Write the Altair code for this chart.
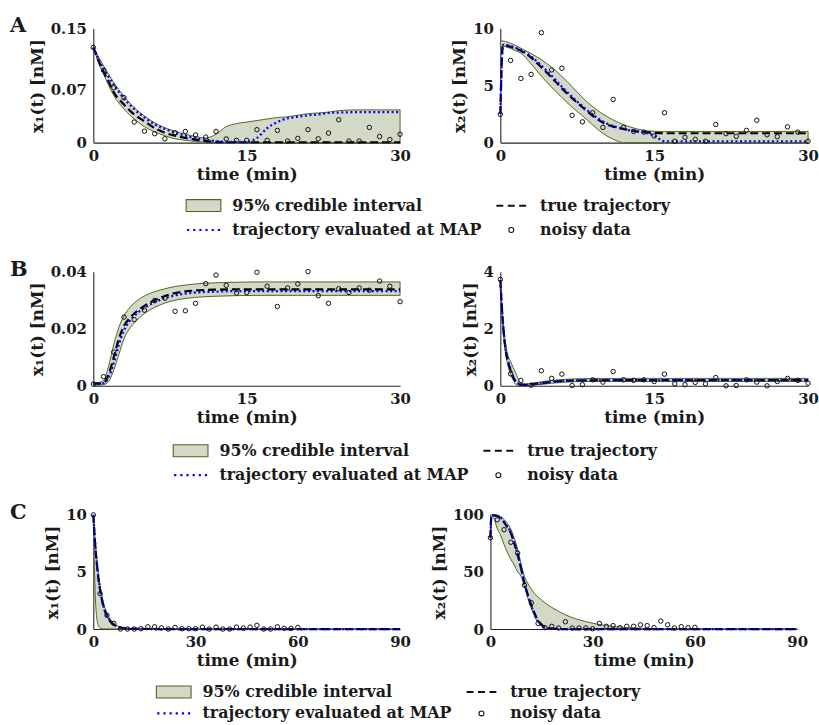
import altair as alt
import pandas as pd

FONT = "DejaVu Serif"
INK = "#1a1a1a"
BAND_FILL = "#d3d9c6"
BAND_STROKE = "#55651e"
MAP_BLUE = "#0000ff"

# ---------------- Panel A ----------------
tA = [0, 0.25, 0.5, 1, 1.5, 2, 3, 4, 5, 6, 7, 8, 9, 10, 11, 12, 13, 14, 15, 16,
      17, 18, 19, 20, 21, 22, 23, 24, 26, 28, 30]
A1_lo = [0.125, 0.115, 0.105, 0.090, 0.075, 0.062, 0.044, 0.031, 0.021, 0.014, 0.009,
         0.005, 0.003, 0.0015, 0.0005, 0, 0, 0, 0, 0, 0, 0, 0, 0, 0, 0, 0, 0, 0, 0, 0]
A1_hi = [0.125, 0.119, 0.113, 0.101, 0.090, 0.079, 0.061, 0.046, 0.035, 0.026, 0.0195,
         0.015, 0.011, 0.008, 0.006, 0.011, 0.021, 0.025, 0.027, 0.029, 0.031, 0.033,
         0.034, 0.036, 0.038, 0.039, 0.040, 0.042, 0.043, 0.043, 0.043]
A1_true = [0.125, 0.117, 0.108, 0.093, 0.080, 0.066, 0.050, 0.037, 0.028, 0.019, 0.013,
           0.009, 0.006, 0.004, 0.002, 0.001, 0.0005, 0.0005, 0.0005, 0.0005, 0.0005,
           0.0005, 0.0005, 0.0005, 0.0005, 0.0005, 0.0005, 0.0005, 0.0005, 0.0005, 0.0005]
A1_map = [0.125, 0.117, 0.110, 0.097, 0.086, 0.076, 0.058, 0.044, 0.033, 0.024, 0.018,
          0.013, 0.009, 0.006, 0.004, 0.002, 0.001, 0.001, 0.001, 0.006, 0.019, 0.027,
          0.032, 0.034, 0.036, 0.037, 0.039, 0.0395, 0.040, 0.040, 0.040]
A2_lo = [8.4, 8.45, 8.4, 8.25, 8.05, 7.84, 6.9, 5.82, 4.85, 3.95, 3.1, 2.36, 1.55, 0.8,
         0.3, 0, 0, 0, 0, 0, 0, 0, 0, 0, 0, 0, 0, 0, 0, 0, 0]
A2_hi = [8.9, 8.9, 8.85, 8.7, 8.5, 8.27, 7.8, 7.26, 6.6, 5.8, 4.9, 3.95, 3.15, 2.5, 1.98,
         1.58, 1.28, 1.07, 0.99, 0.97, 0.97, 0.97, 0.97, 0.97, 0.97, 0.97, 0.97, 0.97,
         0.97, 0.98, 0.98]
A2_true = [2.5, 8.5, 8.5, 8.4, 8.25, 8.05, 7.45, 6.6, 5.7, 4.75, 3.9, 3.1, 2.35, 1.75,
           1.4, 1.2, 1.02, 0.92, 0.85, 0.82, 0.82, 0.82, 0.82, 0.82, 0.82, 0.82, 0.82,
           0.82, 0.82, 0.82, 0.82]
A2_map = [2.5, 8.55, 8.55, 8.45, 8.3, 8.1, 7.55, 6.75, 5.85, 4.9, 4.0, 3.2, 2.45, 1.85,
          1.45, 1.2, 1.0, 0.9, 0.6, 0.12, 0.1, 0.1, 0.1, 0.1, 0.1, 0.1, 0.1, 0.1, 0.1,
          0.1, 0.1]
tA_data = list(range(0, 31))
A1_data = [0.125, 0.095, 0.072, 0.059, 0.027, 0.015, 0.0117, 0.005, 0.013, 0.0147, 0.010,
           0.0073, 0.0147, 0.0048, 0.003, 0.003, 0.017, 0.003, 0.016, 0.002, 0.0056,
           0.017, 0.005, 0.0125, 0.030, 0.002, 0.002, 0.020, 0.008, 0.004, 0.011]
A2_data = [2.48, 7.2, 5.62, 5.97, 9.63, 6.37, 6.51, 2.39, 1.82, 2.62, 1.33, 3.78, 1.33,
           0.98, 0.92, 0.58, 2.62, 0.12, 0.46, 0.29, 0.12, 1.59, 0.78, 0.55, 1.07, 1.96,
           0.69, 0.52, 1.38, 0.92, 0.12]

# ---------------- Panel B ----------------
tB = [0, 0.5, 1, 1.5, 2, 2.5, 3, 3.5, 4, 5, 6, 7, 8, 9, 10, 12, 14, 16, 18, 20, 22,
      24, 26, 28, 30]
B1_true = [0.0008, 0.0008, 0.001, 0.004, 0.010, 0.0165, 0.021, 0.0235, 0.0253, 0.028,
           0.030, 0.0315, 0.0325, 0.0331, 0.0334, 0.0337, 0.0338, 0.0338, 0.0338,
           0.0338, 0.0338, 0.0338, 0.0338, 0.0338, 0.0338]
B1_map = [0.0008, 0.0008, 0.0009, 0.003, 0.008, 0.0145, 0.0195, 0.0225, 0.0245, 0.0273,
          0.0293, 0.0307, 0.0317, 0.0323, 0.0327, 0.033, 0.0332, 0.0332, 0.0332, 0.0332,
          0.0332, 0.0332, 0.0332, 0.0332, 0.0332]
B1_hi = [0.0012, 0.0012, 0.0018, 0.007, 0.0145, 0.0205, 0.0245, 0.0272, 0.029, 0.0315,
         0.033, 0.034, 0.0348, 0.0353, 0.0357, 0.0361, 0.0363, 0.0364, 0.0364, 0.0364,
         0.0364, 0.0364, 0.0364, 0.0364, 0.0364]
B1_lo = [0.0002, 0.0002, 0.0004, 0.0015, 0.0055, 0.011, 0.0165, 0.0198, 0.022, 0.0253,
         0.0275, 0.029, 0.030, 0.0306, 0.031, 0.0314, 0.0316, 0.0317, 0.0317, 0.0317,
         0.0317, 0.0317, 0.0317, 0.0317, 0.0317]
tB2 = [0, 0.25, 0.5, 0.75, 1, 1.25, 1.5, 2, 2.5, 3, 4, 5, 6, 7, 8, 10, 12, 14, 16, 18,
       20, 22, 24, 26, 28, 30]
B2_true = [3.7, 2.2, 1.3, 0.85, 0.55, 0.3, 0.15, 0.04, 0.03, 0.05, 0.09, 0.14, 0.17,
           0.185, 0.19, 0.2, 0.2, 0.2, 0.2, 0.2, 0.2, 0.2, 0.2, 0.2, 0.2, 0.2]
B2_map = [3.7, 2.25, 1.35, 0.9, 0.58, 0.33, 0.17, 0.05, 0.03, 0.05, 0.09, 0.14, 0.17,
          0.185, 0.19, 0.195, 0.195, 0.195, 0.195, 0.195, 0.195, 0.195, 0.195, 0.195,
          0.195, 0.195]
B2_hi = [3.7, 2.35, 1.5, 1.05, 0.85, 0.65, 0.45, 0.1, 0.07, 0.09, 0.14, 0.19, 0.22, 0.24,
         0.25, 0.26, 0.26, 0.26, 0.26, 0.26, 0.26, 0.26, 0.26, 0.26, 0.26, 0.26]
B2_lo = [3.7, 2.05, 1.15, 0.7, 0.4, 0.2, 0.05, 0.0, 0.0, 0.02, 0.05, 0.09, 0.12, 0.14,
         0.15, 0.155, 0.155, 0.155, 0.155, 0.155, 0.155, 0.155, 0.155, 0.155, 0.155,
         0.155]
tB_data = list(range(0, 31))
B1_data = [0.0006, 0.0032, 0.0118, 0.0241, 0.0232, 0.0265, 0.0299, 0.0307, 0.0261,
           0.0263, 0.0289, 0.0358, 0.0388, 0.0352, 0.0325, 0.0327, 0.0398, 0.0349,
           0.0278, 0.0343, 0.0357, 0.0400, 0.0316, 0.0289, 0.0340, 0.0327, 0.0343,
           0.0335, 0.0367, 0.0349, 0.0295]
B2_data = [3.73, 0.42, 0.19, 0.02, 0.53, 0.26, 0.41, 0.01, 0.04, 0.21, 0.13, 0.50, 0.21,
           0.19, 0.21, 0.15, 0.41, 0.07, 0.04, 0.12, 0.07, 0.29, 0.0, 0.01, 0.21, 0.13,
           0.0, 0.15, 0.26, 0.19, 0.09]

# ---------------- Panel C ----------------
tC = [0, 0.5, 1, 1.5, 2, 3, 4, 5, 6, 7, 8, 10, 12, 15, 20, 30, 40, 50, 60, 70, 80, 90]
C1_true = [10, 7.6, 5.8, 4.4, 3.4, 1.95, 1.15, 0.66, 0.38, 0.22, 0.13, 0.045, 0.015,
           0.005, 0, 0, 0, 0, 0, 0, 0, 0]
C1_map = [10, 7.7, 5.9, 4.5, 3.5, 2.0, 1.2, 0.7, 0.4, 0.23, 0.14, 0.05, 0.02, 0.005,
          0.002, 0.001, 0.001, 0.001, 0.001, 0.001, 0.001, 0.001]
C1_hi = [10, 7.9, 6.2, 4.8, 3.8, 2.3, 1.4, 0.85, 0.5, 0.3, 0.18, 0.06, 0.02, 0.006,
         0.002, 0.001, 0.001, 0.001, 0.001, 0.001, 0.001, 0.001]
C1_lo = [10, 3.5, 1.0, 0.3, 0.08, 0.01, 0, 0, 0, 0, 0, 0, 0, 0, 0, 0, 0, 0, 0, 0, 0, 0]
tC2 = [0, 0.3, 1, 2, 3, 4, 5, 6, 7, 8, 9, 10, 11, 12, 13, 14, 15, 16, 18, 20, 22, 25,
       28, 31, 34, 37, 40, 45, 50, 60, 70, 80, 90]
C2_true = [80, 99.5, 99.5, 99, 97, 93.5, 89, 84, 75, 65, 53, 40, 30, 21, 13.5, 7.5, 4,
           1.8, 0.4, 0.05, 0, 0, 0, 0, 0, 0, 0, 0, 0, 0, 0, 0, 0]
C2_map = [80, 99.5, 99.5, 99.2, 97.5, 94, 89.5, 84.5, 75.5, 65.5, 53, 40, 29, 20, 12.5,
          6.5, 3.2, 1.3, 0.3, 0.03, 0, 0, 0, 0, 0, 0, 0, 0, 0, 0, 0, 0, 0]
C2_hi = [100, 100, 100, 99.7, 98.5, 96, 92.5, 87.5, 79.5, 70, 57, 46, 40, 35, 31, 28,
         25.5, 23, 19, 15.5, 12.5, 9, 6.5, 4.5, 3, 2, 1.3, 0.6, 0.3, 0.1, 0, 0, 0]
C2_lo = [97, 98.5, 97, 88, 82, 74, 67, 61, 56, 50, 46, 37, 27, 18.5, 11, 5.5, 2.5, 0.8,
         0.1, 0, 0, 0, 0, 0, 0, 0, 0, 0, 0, 0, 0, 0, 0]
tC_data = list(range(0, 61, 2))
C1_data = [10, 3.1, 1.2, 0.5, 0.0, 0.0, 0.0, 0.03, 0.2, 0.2, 0.1, 0.0, 0.14, 0.03, 0.03,
           0.03, 0.17, 0.0, 0.17, 0.0, 0.0, 0.17, 0.09, 0.17, 0.32, 0.0, 0.0, 0.2, 0.06,
           0.06, 0.14]
C2_data = [80, 95.7, 87, 76, 66.5, 38.4, 23, 4.9, 1.2, 2.4, 0.9, 6.4, 0.9, 0.9, 0.9, 0.3,
           4.9, 2.4, 3.0, 1.2, 2.4, 2.4, 3.7, 3.0, 1.2, 7.0, 3.7, 0.9, 2.1, 1.2, 1.5]

# ---------------- legend ----------------
# legend entries fill column by column: left column first, then right column
LEG_ITEMS = ["95% credible interval", "trajectory evaluated at MAP",
             "true trajectory", "noisy data"]
# symbol paths in units of 10 px (symbolSize 400 -> half-width 10 px)
PATCH = "M-1.75,-0.6H1.75V0.6H-1.75Z"
DASH = ("M-1.5,-0.1H-0.8V0.1H-1.5Z M-0.35,-0.1H0.35V0.1H-0.35Z "
        "M0.8,-0.1H1.5V0.1H0.8Z")
DOTS = ("M-1.66,-0.11H-1.44V0.11H-1.66Z M-1.04,-0.11H-0.82V0.11H-1.04Z "
        "M-0.42,-0.11H-0.2V0.11H-0.42Z M0.2,-0.11H0.42V0.11H0.2Z "
        "M0.82,-0.11H1.04V0.11H0.82Z M1.44,-0.11H1.66V0.11H1.44Z")
RING = "M-0.25,0A0.25,0.25,0,1,0,0.25,0A0.25,0.25,0,1,0,-0.25,0Z"


def legend_layer(lx, ly, row_pad):
    leg = alt.Legend(title=None, orient="none", legendX=lx, legendY=ly, columns=2,
                     columnPadding=12, rowPadding=row_pad, labelOffset=18,
                     labelFont=FONT, labelFontSize=16, labelFontWeight="bold",
                     labelColor=INK, labelLimit=0, symbolSize=400,
                     symbolStrokeWidth=1.1, symbolOpacity=1)
    dom = LEG_ITEMS
    return alt.Chart(pd.DataFrame({"item": LEG_ITEMS})).transform_filter("false").mark_point(
        opacity=1, filled=False).encode(
        shape=alt.Shape("item:N", scale=alt.Scale(domain=dom, range=[PATCH, DOTS, DASH, RING]),
                        legend=leg),
        fill=alt.Fill("item:N", scale=alt.Scale(domain=dom, range=[BAND_FILL, MAP_BLUE, "#111111", "transparent"]),
                      legend=leg),
        stroke=alt.Stroke("item:N", scale=alt.Scale(domain=dom, range=[BAND_STROKE, "transparent", "transparent", "#111111"]),
                          legend=leg),
    )


LABEL_EXPR = "'' + datum.value"


def panel(grid, lo, hi, tru, mp, dt, dv, xdom, xticks, ydom, yticks, ytitle, width,
          height=115, letter=None, leg=None):
    curves = pd.DataFrame({"t": grid, "lo": lo, "hi": hi, "tru": tru, "map": mp})
    pts = pd.DataFrame({"t": dt, "v": dv})
    xs = alt.Scale(domain=xdom, nice=False, zero=False)
    ys = alt.Scale(domain=ydom, nice=False, zero=False)
    xax = alt.Axis(values=xticks, title="time (min)", labelExpr=LABEL_EXPR)
    yax = alt.Axis(values=yticks, title=ytitle, labelExpr=LABEL_EXPR)
    X = alt.X("t:Q", scale=xs, axis=xax)
    base = alt.Chart(curves)
    band = base.mark_area(fill=BAND_FILL, stroke=BAND_STROKE, strokeWidth=1,
                          interpolate="monotone").encode(
        x=X, y=alt.Y("lo:Q", scale=ys, axis=yax), y2="hi:Q")
    true_line = base.mark_line(color="#000000", strokeWidth=2.2, strokeDash=[8, 4],
                               interpolate="monotone").encode(
        x=X, y=alt.Y("tru:Q", scale=ys, axis=yax))
    map_line = base.mark_line(color=MAP_BLUE, strokeWidth=2.3, strokeDash=[2, 2.6],
                              interpolate="monotone").encode(
        x=X, y=alt.Y("map:Q", scale=ys, axis=yax))
    dots = alt.Chart(pts).mark_point(shape="circle", size=20, strokeWidth=1,
                                     color="#111111", filled=False, opacity=1).encode(
        x=X, y=alt.Y("v:Q", scale=ys, axis=yax))
    layers = [band, true_line, map_line, dots]
    if leg is not None:
        layers.append(legend_layer(*leg))
    ch = alt.layer(*layers).properties(width=width, height=height)
    if letter is not None:
        ch = ch.properties(title=alt.TitleParams(
            text=letter, anchor="start", frame="group", orient="top", dx=-84, dy=32,
            offset=0, fontSize=21, font=FONT, fontWeight="bold", color=INK,
            baseline="alphabetic"))
    return ch


INDEP = dict(shape="independent", fill="independent", stroke="independent")

rowA = alt.hconcat(
    panel(tA, A1_lo, A1_hi, A1_true, A1_map, tA_data, A1_data, [0, 30], [0, 15, 30],
          [0, 0.15], [0, 0.07, 0.15], "x₁(t) [nM]", 309, letter="A", leg=(100, 167, 5)),
    panel(tA, A2_lo, A2_hi, A2_true, A2_map, tA_data, A2_data, [0, 30], [0, 15, 30],
          [0, 10], [0, 5, 10], "x₂(t) [nM]", 310),
    spacing=101, bounds="flush").resolve_scale(**INDEP)

rowB = alt.hconcat(
    panel(tB, B1_lo, B1_hi, B1_true, B1_map, tB_data, B1_data, [0, 30], [0, 15, 30],
          [0, 0.04], [0, 0.02, 0.04], "x₁(t) [nM]", 309, letter="B", leg=(87, 169, 5)),
    panel(tB2, B2_lo, B2_hi, B2_true, B2_map, tB_data, B2_data, [0, 30], [0, 15, 30],
          [0, 4], [0, 2, 4], "x₂(t) [nM]", 310),
    spacing=101, bounds="flush").resolve_scale(**INDEP)

rowC = alt.hconcat(
    panel(tC, C1_lo, C1_hi, C1_true, C1_map, tC_data, C1_data, [0, 90], [0, 30, 60, 90],
          [0, 10], [0, 5, 10], "x₁(t) [nM]", 309, letter="C", leg=(70, 167, 2)),
    panel(tC2, C2_lo, C2_hi, C2_true, C2_map, tC_data, C2_data, [0, 90], [0, 30, 60, 90],
          [0, 100], [0, 50, 100], "x₂(t) [nM]", 309),
    spacing=91, bounds="flush").resolve_scale(**INDEP)

chart = alt.vconcat(rowA, rowB, rowC, spacing=245, bounds="flush").resolve_scale(
    **INDEP).properties(
    padding={"left": 10, "top": 13, "right": 0, "bottom": 0}
).configure(background="white").configure_view(stroke=None).configure_axis(
    labelFont=FONT, labelFontSize=15, labelFontWeight="bold", labelColor=INK,
    titleFont=FONT, titleFontSize=17, titleFontWeight="bold", titleColor=INK,
    domainColor="#262626", domainWidth=1.1, ticks=False, grid=False,
    labelFlush=False, labelOverlap=False
).configure_axisX(labelPadding=6, titlePadding=3).configure_axisY(
    labelPadding=7, titlePadding=4)

chart.save("out.html", embed_options={"renderer": "svg", "actions": False})
